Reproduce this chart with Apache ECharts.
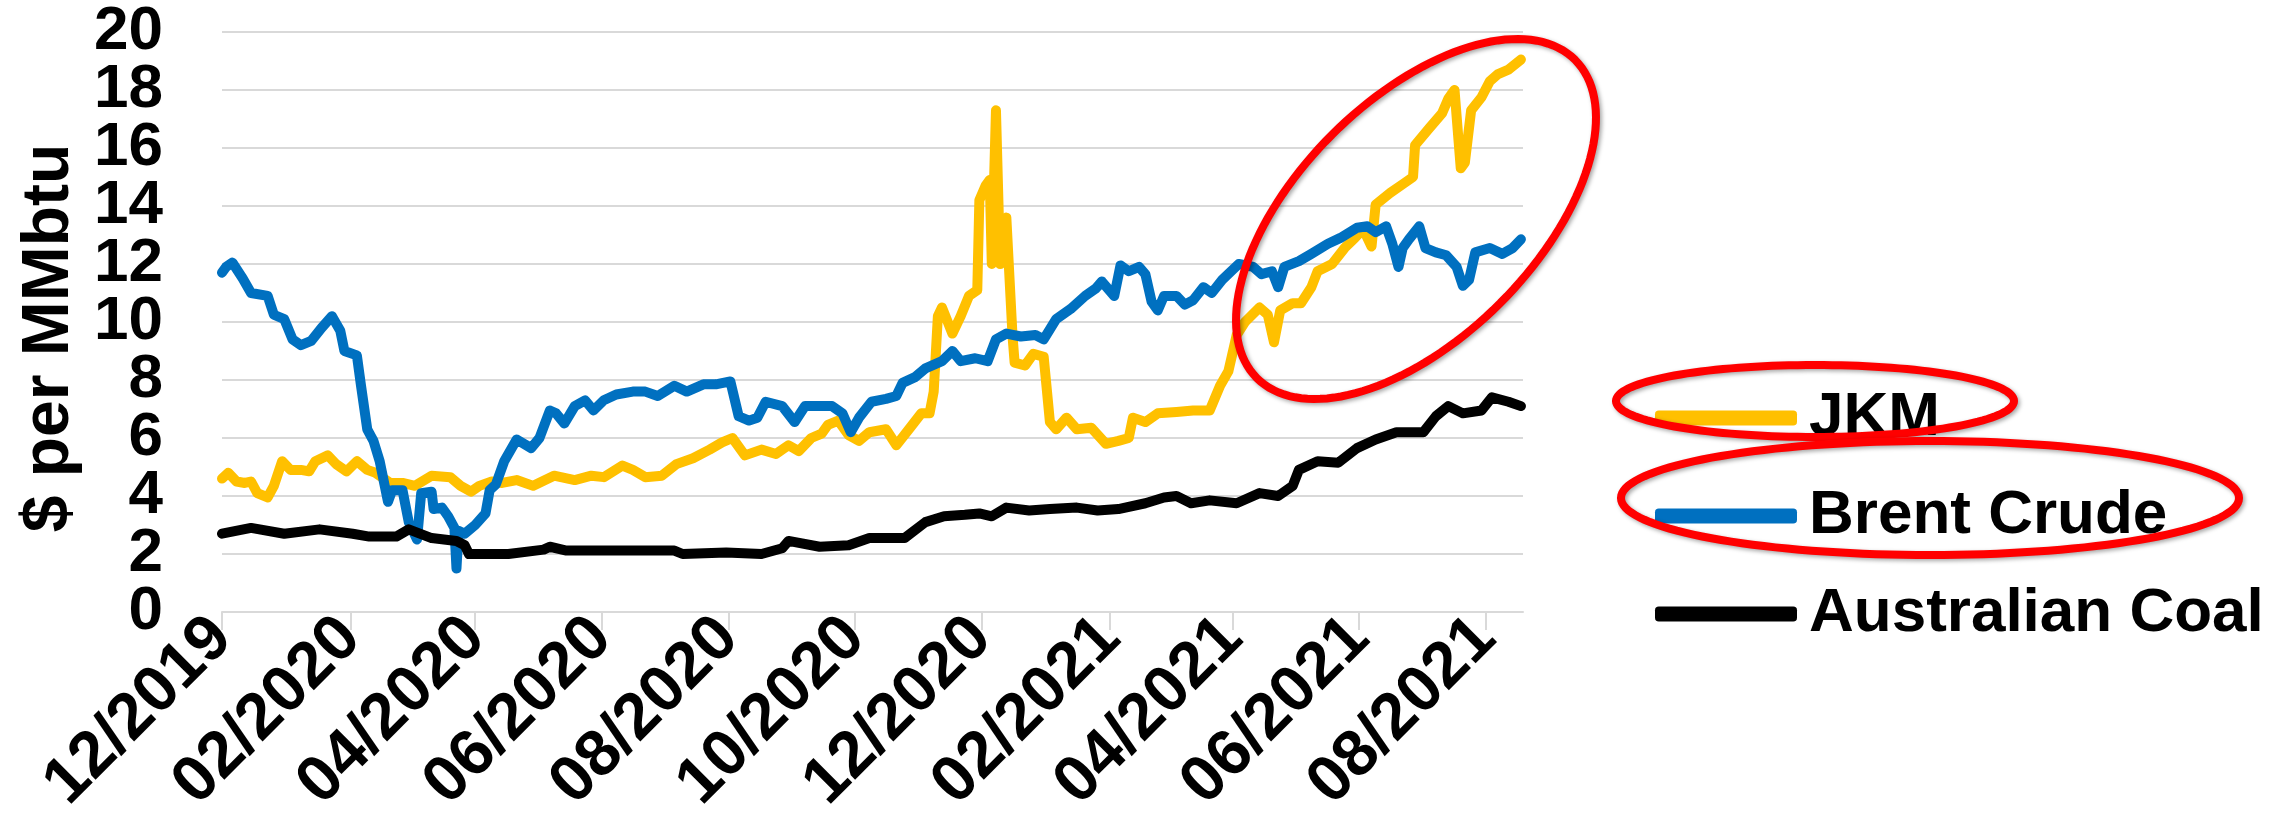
<!DOCTYPE html>
<html>
<head>
<meta charset="utf-8">
<script src="https://cdn.jsdelivr.net/npm/echarts@6/dist/echarts.min.js"></script>
<style>
  html, body { margin: 0; padding: 0; background: #fff; }
  #chart { width: 2288px; height: 829px; }
</style>
</head>
<body>
<div id="chart"></div>
<script>
// tick months shown on the x axis
const tickMonths = ['2019-12-01', '2020-02-01', '2020-04-01', '2020-06-01', '2020-08-01', '2020-10-01',
  '2020-12-01', '2021-02-01', '2021-04-01', '2021-06-01', '2021-08-01']
const axisStart = '2019-12-01'
const axisEnd = '2021-08-19'
const seriesNames = ['JKM', 'Brent Crude', 'Australian Coal']
const yMin = 0
const yMax = 20

// $ per MMbtu
const jkm = [
  ['2019-12-01', 4.6], ['2019-12-04', 4.8], ['2019-12-08', 4.5], ['2019-12-12', 4.45], ['2019-12-15', 4.5],
  ['2019-12-18', 4.1], ['2019-12-23', 3.95], ['2019-12-26', 4.35], ['2019-12-30', 5.2], ['2020-01-03', 4.9],
  ['2020-01-08', 4.9], ['2020-01-12', 4.85], ['2020-01-15', 5.2], ['2020-01-21', 5.4], ['2020-01-25', 5.1],
  ['2020-01-30', 4.85], ['2020-02-04', 5.2], ['2020-02-09', 4.9], ['2020-02-13', 4.8], ['2020-02-20', 4.45],
  ['2020-02-26', 4.45], ['2020-03-03', 4.35], ['2020-03-11', 4.7], ['2020-03-20', 4.65], ['2020-03-25', 4.35],
  ['2020-03-30', 4.15], ['2020-04-03', 4.35], ['2020-04-09', 4.5], ['2020-04-14', 4.45], ['2020-04-21', 4.55],
  ['2020-04-29', 4.35], ['2020-05-09', 4.7], ['2020-05-19', 4.55], ['2020-05-27', 4.7], ['2020-06-02', 4.65],
  ['2020-06-11', 5.05], ['2020-06-16', 4.9], ['2020-06-22', 4.65], ['2020-06-30', 4.7], ['2020-07-07', 5.1],
  ['2020-07-15', 5.3], ['2020-07-23', 5.6], ['2020-07-29', 5.85], ['2020-08-03', 6.0], ['2020-08-09', 5.4],
  ['2020-08-17', 5.6], ['2020-08-24', 5.45], ['2020-08-30', 5.75], ['2020-09-04', 5.55], ['2020-09-10', 6.0],
  ['2020-09-15', 6.15], ['2020-09-18', 6.45], ['2020-09-23', 6.6], ['2020-09-28', 6.1], ['2020-10-03', 5.9],
  ['2020-10-08', 6.2], ['2020-10-16', 6.3], ['2020-10-21', 5.75], ['2020-10-27', 6.3], ['2020-11-02', 6.85],
  ['2020-11-06', 6.85], ['2020-11-08', 7.6], ['2020-11-10', 10.2], ['2020-11-12', 10.5], ['2020-11-17', 9.6],
  ['2020-11-21', 10.2], ['2020-11-25', 10.9], ['2020-11-29', 11.1], ['2020-11-30', 14.2], ['2020-12-03', 14.7],
  ['2020-12-05', 14.9], ['2020-12-06', 12.0], ['2020-12-08', 17.3], ['2020-12-10', 12.0], ['2020-12-13', 13.6],
  ['2020-12-16', 9.5], ['2020-12-17', 8.6], ['2020-12-22', 8.5], ['2020-12-26', 8.9], ['2020-12-31', 8.8],
  ['2021-01-03', 6.55], ['2021-01-06', 6.3], ['2021-01-11', 6.7], ['2021-01-16', 6.3], ['2021-01-23', 6.35],
  ['2021-01-30', 5.8], ['2021-02-05', 5.9], ['2021-02-10', 6.0], ['2021-02-12', 6.7], ['2021-02-18', 6.55],
  ['2021-02-24', 6.85], ['2021-03-05', 6.9], ['2021-03-13', 6.95], ['2021-03-21', 6.95], ['2021-03-26', 7.8],
  ['2021-03-30', 8.3], ['2021-04-03', 9.55], ['2021-04-07', 10.0], ['2021-04-14', 10.5], ['2021-04-18', 10.25],
  ['2021-04-21', 9.3], ['2021-04-24', 10.4], ['2021-04-30', 10.65], ['2021-05-04', 10.65], ['2021-05-09', 11.2],
  ['2021-05-12', 11.75], ['2021-05-19', 12.0], ['2021-05-25', 12.55], ['2021-05-30', 12.9], ['2021-06-03', 13.2],
  ['2021-06-07', 12.6], ['2021-06-09', 14.05], ['2021-06-16', 14.45], ['2021-06-22', 14.75], ['2021-06-27', 15.0],
  ['2021-06-28', 16.1], ['2021-07-05', 16.7], ['2021-07-11', 17.2], ['2021-07-14', 17.7], ['2021-07-17', 18.0],
  ['2021-07-20', 15.3], ['2021-07-22', 15.5], ['2021-07-25', 17.3], ['2021-07-30', 17.75], ['2021-08-03', 18.3],
  ['2021-08-07', 18.55], ['2021-08-12', 18.7], ['2021-08-18', 19.05]
]

const brent = [
  ['2019-12-01', 11.7], ['2019-12-03', 11.9], ['2019-12-06', 12.05], ['2019-12-11', 11.5], ['2019-12-15', 11.0],
  ['2019-12-23', 10.9], ['2019-12-26', 10.25], ['2019-12-31', 10.1], ['2020-01-04', 9.4], ['2020-01-08', 9.2],
  ['2020-01-13', 9.35], ['2020-01-18', 9.8], ['2020-01-23', 10.2], ['2020-01-27', 9.7], ['2020-01-29', 9.0],
  ['2020-02-04', 8.85], ['2020-02-06', 7.8], ['2020-02-09', 6.3], ['2020-02-12', 5.9], ['2020-02-15', 5.2],
  ['2020-02-19', 3.8], ['2020-02-21', 4.2], ['2020-02-26', 4.2], ['2020-02-29', 3.1], ['2020-03-04', 2.5],
  ['2020-03-06', 4.1], ['2020-03-11', 4.15], ['2020-03-12', 3.55], ['2020-03-16', 3.6], ['2020-03-19', 3.3],
  ['2020-03-22', 2.9], ['2020-03-23', 1.5], ['2020-03-24', 2.8], ['2020-03-27', 2.7], ['2020-04-01', 3.0],
  ['2020-04-06', 3.4], ['2020-04-08', 4.2], ['2020-04-11', 4.4], ['2020-04-15', 5.2], ['2020-04-21', 5.95],
  ['2020-04-28', 5.65], ['2020-05-02', 6.0], ['2020-05-07', 6.95], ['2020-05-10', 6.85], ['2020-05-14', 6.5],
  ['2020-05-19', 7.1], ['2020-05-24', 7.3], ['2020-05-28', 6.95], ['2020-06-02', 7.3], ['2020-06-08', 7.5],
  ['2020-06-16', 7.6], ['2020-06-22', 7.6], ['2020-06-28', 7.45], ['2020-07-06', 7.8], ['2020-07-12', 7.6],
  ['2020-07-20', 7.85], ['2020-07-26', 7.85], ['2020-08-02', 7.95], ['2020-08-06', 6.75], ['2020-08-11', 6.6],
  ['2020-08-15', 6.7], ['2020-08-19', 7.25], ['2020-08-27', 7.1], ['2020-09-02', 6.55], ['2020-09-07', 7.1],
  ['2020-09-14', 7.1], ['2020-09-20', 7.1], ['2020-09-25', 6.85], ['2020-09-29', 6.2], ['2020-10-03', 6.7],
  ['2020-10-09', 7.25], ['2020-10-16', 7.35], ['2020-10-21', 7.45], ['2020-10-24', 7.9], ['2020-10-30', 8.1],
  ['2020-11-04', 8.4], ['2020-11-12', 8.65], ['2020-11-17', 9.0], ['2020-11-21', 8.65], ['2020-11-28', 8.75],
  ['2020-12-04', 8.65], ['2020-12-08', 9.4], ['2020-12-13', 9.6], ['2020-12-20', 9.5], ['2020-12-27', 9.55],
  ['2020-12-31', 9.4], ['2021-01-06', 10.1], ['2021-01-13', 10.45], ['2021-01-20', 10.9], ['2021-01-25', 11.15],
  ['2021-01-28', 11.4], ['2021-02-03', 10.9], ['2021-02-06', 11.95], ['2021-02-10', 11.75], ['2021-02-15', 11.9],
  ['2021-02-18', 11.65], ['2021-02-21', 10.7], ['2021-02-24', 10.4], ['2021-02-27', 10.9], ['2021-03-05', 10.9],
  ['2021-03-09', 10.6], ['2021-03-13', 10.75], ['2021-03-18', 11.2], ['2021-03-22', 11.0], ['2021-03-27', 11.45],
  ['2021-04-04', 12.0], ['2021-04-11', 11.9], ['2021-04-15', 11.65], ['2021-04-20', 11.75], ['2021-04-23', 11.2],
  ['2021-04-26', 11.9], ['2021-05-03', 12.1], ['2021-05-09', 12.35], ['2021-05-17', 12.7], ['2021-05-23', 12.9],
  ['2021-05-31', 13.25], ['2021-06-05', 13.3], ['2021-06-09', 13.1], ['2021-06-14', 13.3], ['2021-06-17', 12.7],
  ['2021-06-20', 11.9], ['2021-06-22', 12.55], ['2021-06-25', 12.85], ['2021-06-30', 13.3], ['2021-07-03', 12.55],
  ['2021-07-08', 12.4], ['2021-07-13', 12.3], ['2021-07-18', 11.9], ['2021-07-21', 11.25], ['2021-07-24', 11.45],
  ['2021-07-27', 12.4], ['2021-08-03', 12.55], ['2021-08-09', 12.35], ['2021-08-14', 12.55], ['2021-08-18', 12.85]
]

const coal = [
  ['2019-12-01', 2.7], ['2019-12-15', 2.9], ['2019-12-31', 2.7], ['2020-01-17', 2.85], ['2020-02-02', 2.7],
  ['2020-02-10', 2.6], ['2020-02-23', 2.6], ['2020-02-29', 2.85], ['2020-03-11', 2.55], ['2020-03-23', 2.45],
  ['2020-03-27', 2.3], ['2020-03-29', 2.0], ['2020-04-06', 2.0], ['2020-04-17', 2.0], ['2020-05-04', 2.15],
  ['2020-05-07', 2.25], ['2020-05-15', 2.12], ['2020-06-16', 2.12], ['2020-07-06', 2.12], ['2020-07-10', 2.0],
  ['2020-07-31', 2.05], ['2020-08-17', 2.0], ['2020-08-27', 2.2], ['2020-08-30', 2.45], ['2020-09-14', 2.25],
  ['2020-09-28', 2.3], ['2020-10-08', 2.55], ['2020-10-25', 2.55], ['2020-11-04', 3.1], ['2020-11-13', 3.3],
  ['2020-11-23', 3.35], ['2020-11-30', 3.4], ['2020-12-06', 3.3], ['2020-12-13', 3.6], ['2020-12-24', 3.5],
  ['2021-01-03', 3.55], ['2021-01-16', 3.6], ['2021-01-26', 3.5], ['2021-02-05', 3.55], ['2021-02-18', 3.75],
  ['2021-02-27', 3.95], ['2021-03-05', 4.0], ['2021-03-12', 3.75], ['2021-03-21', 3.85], ['2021-04-03', 3.75],
  ['2021-04-14', 4.1], ['2021-04-23', 4.0], ['2021-04-30', 4.35], ['2021-05-03', 4.9], ['2021-05-12', 5.2],
  ['2021-05-22', 5.15], ['2021-05-31', 5.65], ['2021-06-09', 5.95], ['2021-06-19', 6.2], ['2021-07-02', 6.2],
  ['2021-07-08', 6.75], ['2021-07-14', 7.1], ['2021-07-21', 6.85], ['2021-07-30', 6.95], ['2021-08-04', 7.4],
  ['2021-08-12', 7.25], ['2021-08-18', 7.1]
]

const FONT = "'Liberation Sans', Arial, sans-serif"
const labelFont = { color: '#000', fontFamily: FONT, fontSize: 62, fontWeight: 'bold' }

function ts(s) {
  const [y, m, d] = s.split('-').map(Number)
  return new Date(y, m - 1, d).getTime()
}

function toPoints(list) {
  return list.map(([d, v]) => [ts(d), v])
}

// red hand-drawn style rings, as a closed polygon
function ellipse(cx, cy, rx, ry, rotDeg) {
  const r = rotDeg * Math.PI / 180
  const pts = []
  for (let i = 0; i < 144; i++) {
    const t = i / 144 * Math.PI * 2
    const x = rx * Math.cos(t)
    const y = ry * Math.sin(t)
    pts.push([cx + x * Math.cos(r) - y * Math.sin(r), cy + x * Math.sin(r) + y * Math.cos(r)])
  }
  return {
    type: 'polygon',
    z: 100,
    silent: true,
    shape: { points: pts },
    style: {
      fill: 'none',
      stroke: '#FF0000',
      lineWidth: 8,
      shadowBlur: 4,
      shadowOffsetX: 2,
      shadowOffsetY: 2,
      shadowColor: 'rgba(0,0,0,0.35)'
    }
  }
}

const tickValues = tickMonths.map(ts)

const chart = echarts.init(document.getElementById('chart'), null, { renderer: 'canvas' })
chart.setOption({
  animation: false,
  backgroundColor: '#fff',
  grid: { left: 222, right: 765, top: 32, bottom: 217 },
  legend: {
    orient: 'vertical',
    left: 1650,
    top: 382,
    itemWidth: 142,
    itemHeight: 15,
    itemGap: 36,
    icon: 'roundRect',
    selectedMode: false,
    textStyle: { fontFamily: FONT, fontSize: 62, fontWeight: 'bold', color: '#000', padding: [0, 0, 0, 7] },
    data: seriesNames
  },
  // dates kept as timestamps on a value axis so the 2-month ticks can be placed exactly
  xAxis: {
    type: 'value',
    min: ts(axisStart),
    max: ts(axisEnd),
    axisLine: { show: true, lineStyle: { color: '#D9D9D9', width: 2 } },
    axisTick: { show: true, length: 18, customValues: tickValues, lineStyle: { color: '#D9D9D9', width: 2 } },
    splitLine: { show: false },
    axisLabel: {
      customValues: tickValues,
      rotate: 45,
      margin: 16,
      color: '#000',
      fontFamily: FONT,
      fontSize: 65,
      fontWeight: 'bold',
      formatter: v => {
        const d = new Date(v)
        return String(d.getMonth() + 1).padStart(2, '0') + '/' + d.getFullYear()
      }
    }
  },
  yAxis: [
    {
      // main axis: gridlines, name and the inner labels 2..18
      type: 'value',
      min: yMin,
      max: yMax,
      interval: 2,
      name: '$ per MMbtu',
      nameLocation: 'middle',
      nameRotate: 90,
      nameGap: 134,
      nameTextStyle: { fontFamily: FONT, fontSize: 66, fontWeight: 'bold', color: '#000', padding: [0, 32, 0, 0] },
      axisLine: { show: false },
      axisTick: { show: false },
      splitLine: { lineStyle: { color: '#D9D9D9', width: 2 } },
      axisLabel: Object.assign({ margin: 59, showMinLabel: false, showMaxLabel: false }, labelFont)
    },
    {
      // same scale, only the end labels 0 and 20 (big digits would otherwise knock out 2 and 18)
      type: 'value',
      position: 'left',
      min: yMin,
      max: yMax,
      axisLine: { show: false },
      axisTick: { show: false },
      splitLine: { show: false },
      axisLabel: Object.assign({ margin: 59, customValues: [yMin, yMax], showMinLabel: true, showMaxLabel: true }, labelFont)
    }
  ],
  series: [
    { name: 'JKM', type: 'line', data: toPoints(jkm), showSymbol: false, symbol: 'none',
      color: '#FFC000', lineStyle: { color: '#FFC000', width: 10, join: 'round', cap: 'round' } },
    { name: 'Brent Crude', type: 'line', data: toPoints(brent), showSymbol: false, symbol: 'none',
      color: '#0070C0', lineStyle: { color: '#0070C0', width: 10, join: 'round', cap: 'round' } },
    { name: 'Australian Coal', type: 'line', data: toPoints(coal), showSymbol: false, symbol: 'none',
      color: '#000000', lineStyle: { color: '#000000', width: 10, join: 'round', cap: 'round' } }
  ],
  graphic: [
    ellipse(1416, 219, 225, 119, -45),
    ellipse(1815, 401, 199, 36, 0),
    ellipse(1930, 498, 309, 57, 0)
  ]
})
</script>
</body>
</html>
